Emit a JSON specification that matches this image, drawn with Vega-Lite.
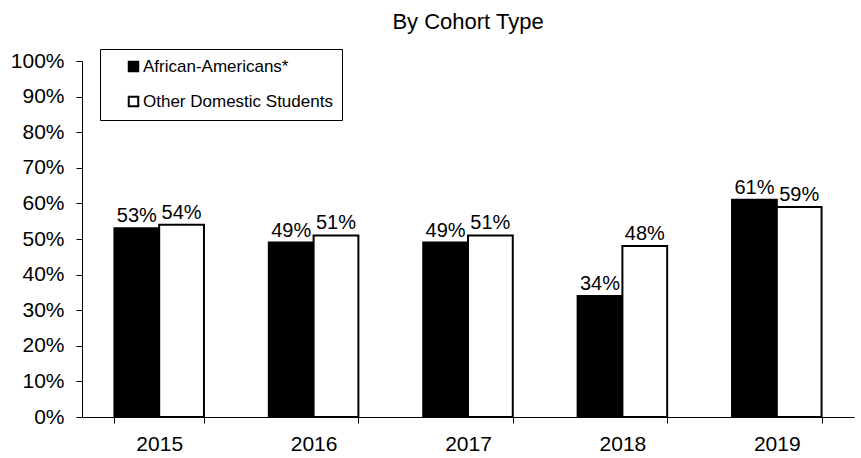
{
  "$schema": "https://vega.github.io/schema/vega-lite/v6.json",
  "width": 772,
  "height": 356,
  "autosize": {"type": "none"},
  "padding": {"left": 82, "top": 61, "right": 7, "bottom": 41},
  "background": "white",
  "config": {
    "view": {"stroke": null},
    "font": "Liberation Sans"
  },
  "title": {
    "text": "By Cohort Type",
    "font": "Liberation Sans",
    "fontSize": 22,
    "fontWeight": "normal",
    "color": "black",
    "anchor": "middle",
    "offset": 15
  },
  "data": {
    "values": [
      {"year": "2015", "group": "African-Americans*", "rate": 0.53},
      {"year": "2015", "group": "Other Domestic Students", "rate": 0.54},
      {"year": "2016", "group": "African-Americans*", "rate": 0.49},
      {"year": "2016", "group": "Other Domestic Students", "rate": 0.51},
      {"year": "2017", "group": "African-Americans*", "rate": 0.49},
      {"year": "2017", "group": "Other Domestic Students", "rate": 0.51},
      {"year": "2018", "group": "African-Americans*", "rate": 0.34},
      {"year": "2018", "group": "Other Domestic Students", "rate": 0.48},
      {"year": "2019", "group": "African-Americans*", "rate": 0.61},
      {"year": "2019", "group": "Other Domestic Students", "rate": 0.59}
    ]
  },
  "encoding": {
    "x": {
      "field": "year",
      "type": "nominal",
      "scale": {"paddingInner": 0.42, "paddingOuter": 0.21},
      "axis": {
        "title": null,
        "labelAngle": 0,
        "labelFontSize": 21,
        "labelColor": "black",
        "labelPadding": 10,
        "tickBand": "extent",
        "tickSize": 6,
        "tickColor": "black",
        "domainColor": "black",
        "grid": false
      }
    },
    "xOffset": {"field": "group", "type": "nominal", "sort": ["African-Americans*", "Other Domestic Students"]},
    "y": {
      "field": "rate",
      "type": "quantitative",
      "scale": {"domain": [0, 1], "nice": false},
      "axis": {
        "title": null,
        "format": ".0%",
        "values": [0, 0.1, 0.2, 0.3, 0.4, 0.5, 0.6, 0.7, 0.8, 0.9, 1],
        "labelFontSize": 21,
        "labelColor": "black",
        "labelPadding": 12,
        "tickSize": 6,
        "tickColor": "black",
        "domainColor": "black",
        "grid": false
      }
    }
  },
  "layer": [
    {
      "mark": {"type": "bar", "stroke": "black", "strokeWidth": 2},
      "encoding": {
        "fill": {
          "field": "group",
          "type": "nominal",
          "scale": {"domain": ["African-Americans*", "Other Domestic Students"], "range": ["black", "white"]},
          "legend": {
            "title": null,
            "orient": "none",
            "legendX": 18,
            "legendY": -12,
            "direction": "vertical",
            "strokeColor": "black",
            "fillColor": "white",
            "padding": 9,
            "symbolOffset": 16,
            "symbolType": "square",
            "symbolSize": 90,
            "symbolStrokeColor": "black",
            "symbolStrokeWidth": 2,
            "labelFontSize": 17,
            "labelColor": "black",
            "labelOffset": 1,
            "rowPadding": 16,
            "labelLimit": 400
          }
        }
      }
    },
    {
      "mark": {"type": "text", "baseline": "alphabetic", "dy": -6, "fontSize": 20, "color": "black"},
      "encoding": {
        "text": {"field": "rate", "type": "quantitative", "format": ".0%"}
      }
    }
  ]
}
